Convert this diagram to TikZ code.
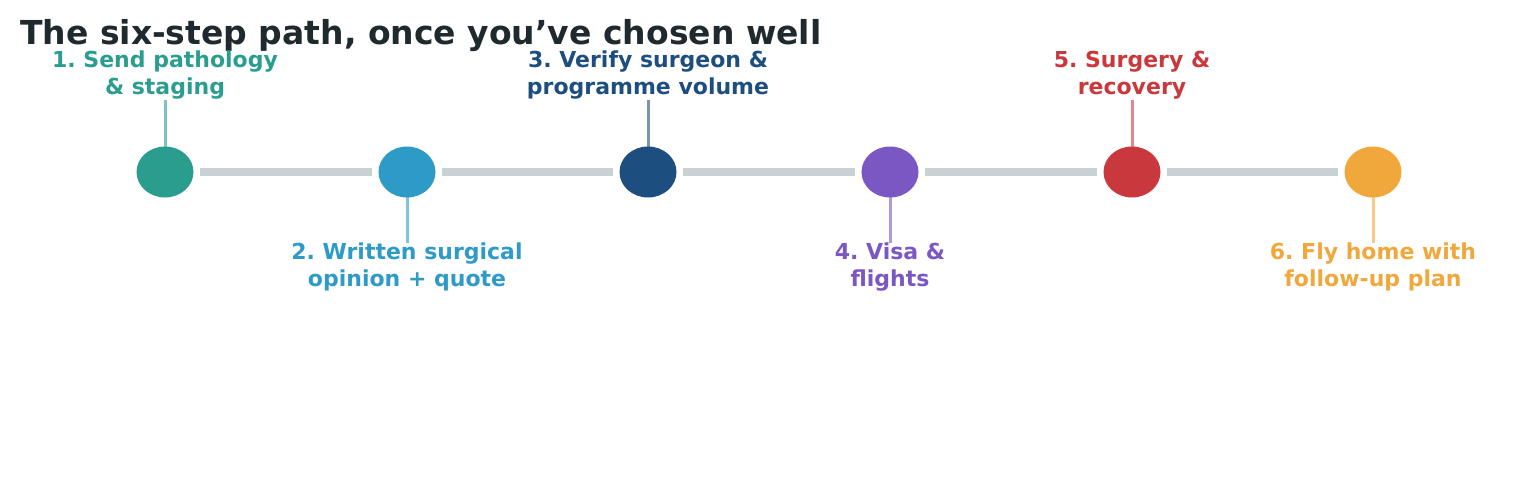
\documentclass[tikz,border=0pt]{standalone}
\usepackage{fontspec}
\setmainfont{DejaVu Sans}
\usetikzlibrary{shapes.geometric}
\definecolor{c1}{HTML}{2A9D8F}\definecolor{c2}{HTML}{2E9AC6}\definecolor{c3}{HTML}{1D4E80}
\definecolor{c4}{HTML}{7B57C3}\definecolor{c5}{HTML}{C8383C}\definecolor{c6}{HTML}{F0A83C}
\definecolor{ln}{HTML}{C8D2D4}\definecolor{tt}{HTML}{1F2A2E}
\begin{document}
\frenchspacing
\begin{tikzpicture}[x=1pt,y=-1pt,
 dot/.style={ellipse,minimum width=57pt,minimum height=51pt,inner sep=0pt},
 lbl/.style={font=\bfseries\fontsize{22}{26.5}\selectfont,align=center,inner sep=0pt},
 conn/.style={ln,line width=8pt},
 tick/.style={line width=3pt,opacity=0.6}]
\useasboundingbox (0,0) rectangle (1538,498);
\node[anchor=west,text=tt,font=\bfseries\fontsize{33}{38}\selectfont,inner sep=0pt] (title) at (20,36) {The six-step path, once you\char"27 ve chosen well};
\foreach \i/\x in {1/165,2/407,3/648,4/890,5/1132,6/1373}{
  \node[dot,fill=c\i] (n\i) at (\x,172) {};
}
\foreach \a/\b in {1/2,2/3,3/4,4/5,5/6}{
  \draw[conn] ([xshift=6pt]n\a.east) -- ([xshift=-6pt]n\b.west);
}
\node[lbl,text=c1,anchor=south] (l1) at (165,99) {1. Send pathology\\\& staging};
\node[lbl,text=c3,anchor=south] (l3) at (648,99) {3. Verify surgeon \&\\programme volume};
\node[lbl,text=c5,anchor=south] (l5) at (1132,99) {5. Surgery \&\\recovery};
\node[lbl,text=c2,anchor=north] (l2) at (407,243) {2. Written surgical\\opinion + quote};
\node[lbl,text=c4,anchor=north] (l4) at (890,243) {4. Visa \&\\flights};
\node[lbl,text=c6,anchor=north] (l6) at (1373,243) {6. Fly home with\\follow-up plan};
\foreach \i in {1,3,5}{
  \coordinate (t\i) at ([yshift=-5pt]n\i.north);
  \draw[tick,c\i] (t\i) -- ([yshift=-1pt]l\i.south);
}
\foreach \i in {2,4,6}{
  \coordinate (t\i) at ([yshift=6pt]n\i.south);
  \draw[tick,c\i] (t\i) -- (l\i.north);
}
\end{tikzpicture}
\end{document}
